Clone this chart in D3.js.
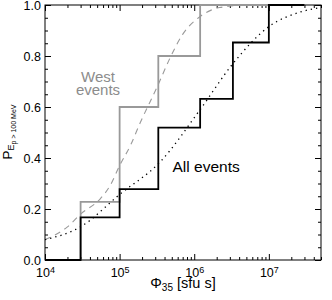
<!DOCTYPE html>
<html>
<head>
<meta charset="utf-8">
<script src="https://cdn.jsdelivr.net/npm/d3@7"></script>
<style>
  body { margin: 0; background: #fff; }
  text { font-family: "Liberation Sans", Arial, sans-serif; }
</style>
</head>
<body>
<div id="vis"></div>
<script>
// empirical distributions (step after each value)
const allX = [1e4, 3e4, 1e5, 3.3e5, 1.2e6, 3.3e6, 1e7, 3e7];
const allP = [0, 0.167, 0.278, 0.519, 0.632, 0.853, 1.0, 1.0];
const westX = [1e4, 3e4, 1e5, 3.3e5, 1.2e6, 3e7];
const westP = [0, 0.228, 0.6, 0.8, 1.0, 1.0];

// fitted curves
const allFitX = [1e4, 3e4, 1e5, 3.5e5, 1.2e6, 3.3e6, 1e7, 2.6e7, 5e7];
const allFitP = [0.08, 0.13, 0.257, 0.385, 0.59, 0.77, 0.915, 0.972, 0.99];
const westFitX = [1e4, 2e4, 3e4, 5.5e4, 7.4e4, 1e5, 1.4e5, 1.9e5, 3.2e5, 4.7e5, 7e5, 1.2e6, 2.2e6, 5e6];
const westFitP = [0.08, 0.13, 0.18, 0.24, 0.29, 0.37, 0.45, 0.54, 0.68, 0.79, 0.885, 0.955, 0.99, 1.0];

const xMajor = [1e4, 1e5, 1e6, 1e7];
const yMajor = [0, 0.2, 0.4, 0.6, 0.8, 1.0];

const W = 332, H = 300;
const mLeft = 45, mRight = 321, mTop = 5, mBottom = 260;

const svg = d3.select("#vis").append("svg")
  .attr("width", W)
  .attr("height", H);

const x = d3.scaleLog().domain([1e4, 5e7]).range([mLeft, mRight]);
const y = d3.scaleLinear().domain([0, 1]).range([mBottom, mTop]);

const xMinor = [];
[1e4, 1e5, 1e6, 1e7].forEach(d => {
  for (let k = 2; k <= 9; k++) if (d * k <= 5e7) xMinor.push(d * k);
});
const yMinor = d3.range(0, 1.0001, 0.05).filter(v => Math.abs(v * 5 - Math.round(v * 5)) > 1e-6);

// frame
svg.append("rect")
  .attr("x", mLeft).attr("y", mTop)
  .attr("width", mRight - mLeft).attr("height", mBottom - mTop)
  .attr("fill", "none").attr("stroke", "#000").attr("stroke-width", 1);

function styleAxis(g) {
  g.select(".domain").remove();
  g.selectAll("line").attr("stroke", "#000");
  g.selectAll("text").attr("font-size", "12.5px").attr("fill", "#000")
    .attr("font-family", "Liberation Sans, Arial, sans-serif");
}

// bottom axis
const xb = svg.append("g")
  .attr("transform", `translate(0,${mBottom})`)
  .call(d3.axisBottom(x).tickValues(xMajor).tickSize(-6).tickPadding(8).tickFormat(""))
  .call(styleAxis);
xb.selectAll(".tick text").each(function (d) {
  const t = d3.select(this);
  t.text("10");
  t.append("tspan").attr("dy", "-0.45em").attr("font-size", "9px").text(Math.round(Math.log10(d)));
});
svg.append("g")
  .attr("transform", `translate(0,${mBottom})`)
  .call(d3.axisBottom(x).tickValues(xMinor).tickSize(-3).tickFormat(""))
  .call(styleAxis);

// top axis
svg.append("g")
  .attr("transform", `translate(0,${mTop})`)
  .call(d3.axisTop(x).tickValues(xMajor).tickSize(-6).tickFormat(""))
  .call(styleAxis);
svg.append("g")
  .attr("transform", `translate(0,${mTop})`)
  .call(d3.axisTop(x).tickValues(xMinor).tickSize(-3).tickFormat(""))
  .call(styleAxis);

// left axis
svg.append("g")
  .attr("transform", `translate(${mLeft},0)`)
  .call(d3.axisLeft(y).tickValues(yMajor).tickSize(-6).tickPadding(4).tickFormat(d3.format(".1f")))
  .call(styleAxis);
svg.append("g")
  .attr("transform", `translate(${mLeft},0)`)
  .call(d3.axisLeft(y).tickValues(yMinor).tickSize(-3).tickFormat(""))
  .call(styleAxis);

// right axis
svg.append("g")
  .attr("transform", `translate(${mRight},0)`)
  .call(d3.axisRight(y).tickValues(yMajor).tickSize(-6).tickFormat(""))
  .call(styleAxis);
svg.append("g")
  .attr("transform", `translate(${mRight},0)`)
  .call(d3.axisRight(y).tickValues(yMinor).tickSize(-3).tickFormat(""))
  .call(styleAxis);

// FIT CURVES
const fitLine = d3.line()
  .x(d => x(d[0]))
  .y(d => y(d[1]))
  .curve(d3.curveMonotoneX);

svg.append("path")
  .datum(westFitX.map((v, i) => [v, westFitP[i]]))
  .attr("d", fitLine)
  .attr("fill", "none")
  .attr("stroke", "#9a9a9a")
  .attr("stroke-width", 1.1)
  .attr("stroke-dasharray", "6,5");

svg.append("path")
  .datum(allFitX.map((v, i) => [v, allFitP[i]]))
  .attr("d", fitLine)
  .attr("fill", "none")
  .attr("stroke", "#000")
  .attr("stroke-width", 1.3)
  .attr("stroke-dasharray", "1.3,4");

// STEP LINES
const stepLine = d3.line()
  .x(d => x(d[0]))
  .y(d => y(d[1]))
  .curve(d3.curveStepAfter);

svg.append("path")
  .datum(westX.map((v, i) => [v, westP[i]]))
  .attr("d", stepLine)
  .attr("fill", "none")
  .attr("stroke", "#999")
  .attr("stroke-width", 1.8);

svg.append("path")
  .datum(allX.map((v, i) => [v, allP[i]]))
  .attr("d", stepLine)
  .attr("fill", "none")
  .attr("stroke", "#000")
  .attr("stroke-width", 1.8);

// LABELS
svg.append("text")
  .attr("x", 98).attr("y", 82)
  .attr("text-anchor", "middle")
  .attr("font-size", "15px")
  .attr("fill", "#8c8c8c")
  .text("West");
svg.append("text")
  .attr("x", 98).attr("y", 95)
  .attr("text-anchor", "middle")
  .attr("font-size", "15px")
  .attr("fill", "#8c8c8c")
  .text("events");

svg.append("text")
  .attr("x", 172.5).attr("y", 171.5)
  .attr("font-size", "15.5px")
  .attr("fill", "#000")
  .text("All events");

// x axis title
const xt = svg.append("text")
  .attr("x", 183).attr("y", 288)
  .attr("text-anchor", "middle")
  .attr("font-size", "14.5px")
  .attr("fill", "#000");
xt.append("tspan").text("Φ");
xt.append("tspan").attr("dy", "3").attr("font-size", "10px").text("35");
xt.append("tspan").attr("dy", "-3").text(" [sfu s]");

// y axis title
const yt = svg.append("text")
  .attr("transform", `translate(11.5,${132}) rotate(-90)`)
  .attr("text-anchor", "middle")
  .attr("font-size", "13.5px")
  .attr("fill", "#000");
yt.append("tspan").text("P");
yt.append("tspan").attr("dy", "2.5").attr("font-size", "9px").text("E");
yt.append("tspan").attr("dy", "2").attr("font-size", "7px").text("p");
yt.append("tspan").attr("dy", "0").attr("font-size", "7px").text(" > 100 MeV");
</script>
</body>
</html>
